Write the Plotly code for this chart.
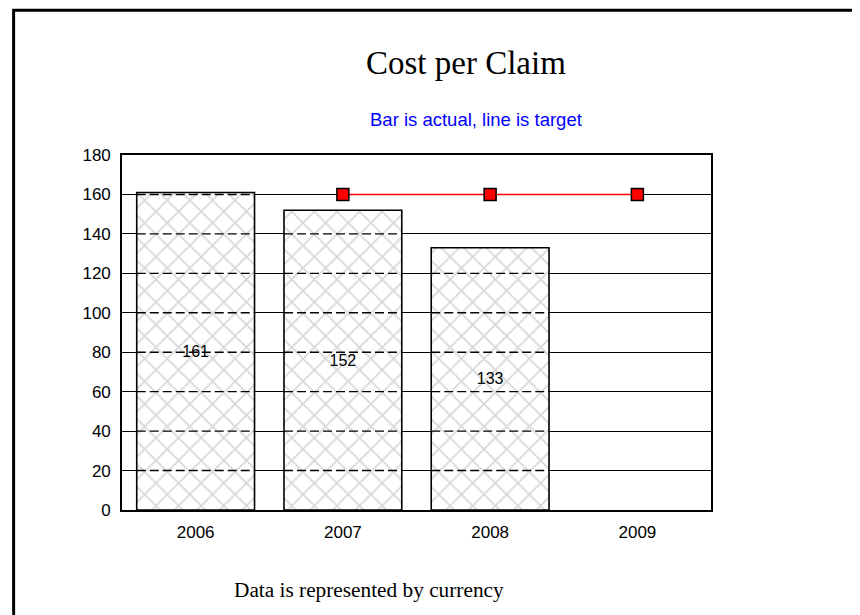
import plotly.graph_objects as go

years = ["2006", "2007", "2008", "2009"]
actual = [161, 152, 133, None]
target = [None, 160, 160, 160]
y_ticks = [0, 20, 40, 60, 80, 100, 120, 140, 160, 180]

title_text = "Cost per Claim"
subtitle_text = "Bar is actual, line is target"
footer_text = "Data is represented by currency"

BARGAP = 0.2
bar_w = 1 - BARGAP

fig = go.Figure()
fig.add_trace(go.Bar(
    x=years, y=actual,
    text=[str(v) if v is not None else "" for v in actual],
    textposition="inside", insidetextanchor="middle",
    textfont=dict(family="Liberation Sans, Arial", size=16, color="black"),
    marker=dict(
        color="white",
        line=dict(color="black", width=1.6),
        pattern=dict(shape="x", fgcolor="#b0b0b0", bgcolor="white", size=16, solidity=0.2),
    ),
    showlegend=False,
))
fig.add_trace(go.Scatter(
    x=years, y=target, mode="lines+markers",
    line=dict(color="red", width=1.4),
    marker=dict(symbol="square", size=12, color="red", line=dict(color="black", width=1.5)),
    showlegend=False,
))

shapes = []
# dashed gridlines drawn over the hatched bars
for i, v in enumerate(actual):
    if v is None:
        continue
    for t in y_ticks[1:]:
        if t < v:
            shapes.append(dict(type="line", xref="x", yref="y",
                               x0=i - bar_w / 2, x1=i + bar_w / 2, y0=t, y1=t,
                               line=dict(color="black", width=1.4, dash="9px,4px"),
                               layer="above"))
# outer frame
shapes.append(dict(type="rect", xref="paper", yref="paper",
                   x0=-0.184, x1=2.0, y0=-1.0, y1=1.408,
                   line=dict(color="black", width=3), layer="above"))

fig.update_layout(
    width=852, height=607,
    margin=dict(l=114, r=149, t=147, b=105),
    paper_bgcolor="white", plot_bgcolor="white",
    bargap=BARGAP,
    shapes=shapes,
    annotations=[
        dict(text=title_text, xref="paper", yref="paper", x=0.584, y=1.259,
             xanchor="center", yanchor="middle", showarrow=False,
             font=dict(family="Liberation Serif, Times New Roman", size=33, color="black")),
        dict(text=subtitle_text, xref="paper", yref="paper", x=0.601, y=1.0986,
             xanchor="center", yanchor="middle", showarrow=False,
             font=dict(family="Liberation Sans, Arial", size=18.5, color="#0000ff")),
        dict(text=footer_text, xref="paper", yref="paper", x=0.419, y=-0.225,
             xanchor="center", yanchor="middle", showarrow=False,
             font=dict(family="Liberation Serif, Times New Roman", size=21.3, color="black")),
    ],
    xaxis=dict(type="category", showline=True, mirror=True, linecolor="black", linewidth=1.6,
               showgrid=False, ticks="", ticklabelstandoff=6,
               tickfont=dict(family="Liberation Sans, Arial", size=17, color="black")),
    yaxis=dict(range=[0, 180], tickvals=y_ticks, showline=True, mirror=True,
               linecolor="black", linewidth=1.6, showgrid=True, gridcolor="black",
               gridwidth=1.4, zeroline=False, ticks="", ticklabelstandoff=6,
               tickfont=dict(family="Liberation Sans, Arial", size=17, color="black")),
)

fig.write_html("out.html")
